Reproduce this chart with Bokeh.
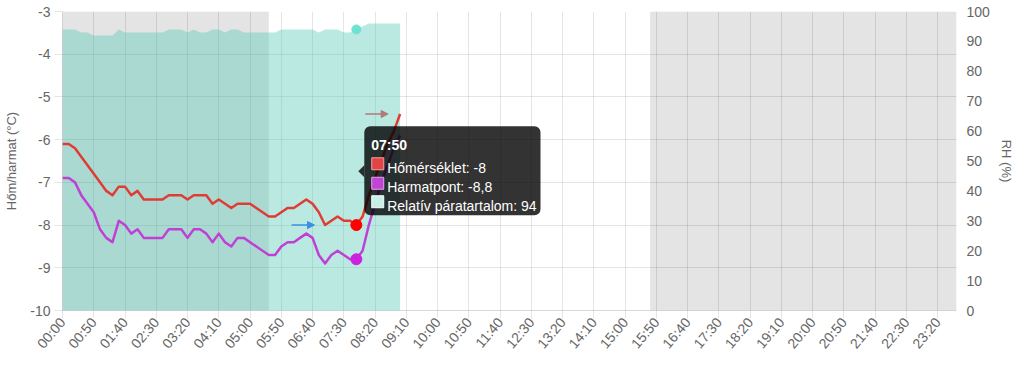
import numpy as np
from bokeh.plotting import figure
from bokeh.models import Range1d, LinearAxis, FixedTicker, BoxAnnotation, Arrow, NormalHead
from bokeh.core.properties import value
from bokeh.embed import file_html
from bokeh.resources import INLINE

# ---------------- data ----------------
times = [f"{h:02d}:{m:02d}" for h in range(24) for m in range(0, 60, 10)]

temp = [-6.1, -6.1, -6.2, -6.4, -6.6, -6.8, -7.0, -7.2, -7.3, -7.1,
        -7.1, -7.3, -7.2, -7.4, -7.4, -7.4, -7.4, -7.3, -7.3, -7.3,
        -7.4, -7.3, -7.3, -7.3, -7.5, -7.4, -7.5, -7.6, -7.5, -7.5,
        -7.5, -7.6, -7.7, -7.8, -7.8, -7.7, -7.6, -7.6, -7.5, -7.4,
        -7.5, -7.7, -8.0, -7.9, -7.8, -7.9, -7.9, -8.0, -7.8, -7.3,
        -6.9, -6.5, -6.1, -5.8, -5.4]

dew = [-6.9, -6.9, -7.0, -7.3, -7.5, -7.7, -8.1, -8.3, -8.4, -7.9,
       -8.0, -8.2, -8.1, -8.3, -8.3, -8.3, -8.3, -8.1, -8.1, -8.1,
       -8.3, -8.1, -8.1, -8.2, -8.4, -8.2, -8.4, -8.5, -8.3, -8.3,
       -8.4, -8.5, -8.6, -8.7, -8.7, -8.5, -8.4, -8.4, -8.3, -8.2,
       -8.3, -8.7, -8.9, -8.7, -8.6, -8.7, -8.8, -8.8, -8.6, -8.0,
       -7.5, -7.0, -6.6, -6.2, -5.9]

rh = [94, 94, 94, 93, 93, 92, 92, 92, 92, 94,
      93, 93, 93, 93, 93, 93, 93, 94, 94, 94,
      93, 94, 93, 93, 94, 94, 93, 94, 94, 93,
      93, 93, 93, 93, 93, 94, 94, 94, 94, 94,
      94, 93, 94, 94, 94, 93, 93, 94, 95, 96,
      96, 96, 96, 96, 96]

shaded = [("00:00", "05:30"), ("15:40", "23:50")]
hover_time = "07:50"
temp_ticks = [-10, -9, -8, -7, -6, -5, -4, -3]
rh_ticks = [0, 10, 20, 30, 40, 50, 60, 70, 80, 90, 100]
label_step = 5

series_names = ["Hőmérséklet", "Harmatpont", "Relatív páratartalom"]
y_title_left = "Hőm/harmat (°C)"
y_title_right = "RH (%)"

# ---------------- style ----------------
FONT = "Liberation Sans"
TXT = "#666666"
RED = "#e03c34"
PURPLE = "#c040d6"
TEAL = "#52c7b3"

W, H = 1016, 359
BL, BR, BT, BB = 62, 56, 11, 49
FRAME_W, FRAME_H = W - BL - BR, H - BT - BB
xmin, xmax = 0, len(times) - 1
ymin, ymax = min(temp_ticks), max(temp_ticks)
PPX = FRAME_W / (xmax - xmin)
PPY = FRAME_H / (ymax - ymin)


def X(px):
    return xmin + px / PPX


def Y(px):
    return ymax - px / PPY


p = figure(width=W, height=H, output_backend="svg", toolbar_location=None,
           x_range=Range1d(xmin, xmax), y_range=Range1d(ymin, ymax),
           min_border_left=BL, min_border_right=BR, min_border_top=BT, min_border_bottom=BB,
           outline_line_color=None, background_fill_color="white", border_fill_color="white")
p.extra_y_ranges = {"rh": Range1d(0, 100)}

# shaded (night) bands beneath the grid
for a, b in shaded:
    p.add_layout(BoxAnnotation(left=times.index(a), right=times.index(b),
                               fill_color="#e4e4e4", fill_alpha=1.0, line_color=None,
                               level="image"))

xt = list(range(0, len(times), label_step))
xticker = FixedTicker(ticks=xt)
p.xaxis.ticker = xticker
p.xaxis.major_label_overrides = {i: times[i] for i in xt}
p.xaxis.major_label_orientation = np.deg2rad(50)
p.yaxis.ticker = FixedTicker(ticks=temp_ticks)
p.yaxis.major_label_overrides = {t: str(t) for t in temp_ticks}
p.xgrid.ticker = xticker
p.ygrid.ticker = FixedTicker(ticks=temp_ticks)
for g in (p.xgrid, p.ygrid):
    g.grid_line_color = "black"
    g.grid_line_alpha = 0.1

for ax in (p.xaxis[0], p.yaxis[0]):
    ax.major_tick_out = 8
    ax.major_tick_in = 0
    ax.minor_tick_line_color = None
    ax.major_tick_line_color = "black"
    ax.major_tick_line_alpha = 0.1
    ax.axis_line_color = "black"
    ax.axis_line_alpha = 0.15
    ax.major_label_text_font = FONT
    ax.major_label_text_font_size = "14px"
    ax.major_label_text_color = TXT
    ax.major_label_standoff = 4
p.xaxis[0].major_label_standoff = 1

yl = p.yaxis[0]
yl.axis_label = y_title_left
yl.axis_label_text_font = FONT
yl.axis_label_text_font_size = "13px"
yl.axis_label_text_font_style = "normal"
yl.axis_label_text_color = TXT
yl.axis_label_standoff = 8

yr = LinearAxis(y_range_name="rh", ticker=FixedTicker(ticks=rh_ticks), axis_label=y_title_right)
yr.major_label_overrides = {t: str(t) for t in rh_ticks}
yr.major_tick_out = 0
yr.major_tick_in = 0
yr.major_tick_line_color = None
yr.minor_tick_line_color = None
yr.axis_line_color = None
yr.major_label_standoff = 10
yr.major_label_text_font = FONT
yr.major_label_text_font_size = "14px"
yr.major_label_text_color = TXT
yr.axis_label_text_font = FONT
yr.axis_label_text_font_size = "13px"
yr.axis_label_text_font_style = "normal"
yr.axis_label_text_color = TXT
yr.axis_label_standoff = 6
p.add_layout(yr, "right")

# ---------------- series ----------------
xs = list(range(len(temp)))
p.varea(x=xs, y1=[0] * len(rh), y2=rh, y_range_name="rh", fill_color=TEAL, fill_alpha=0.4)
p.line(xs, dew, line_color=PURPLE, line_width=2.5, line_join="round")
p.line(xs, temp, line_color=RED, line_width=2.5, line_join="round")

# hover markers
h = times.index(hover_time)
p.scatter([h], [temp[h]], size=11, fill_color="#ff0000", line_color="#ff0000")
p.scatter([h], [dew[h]], size=11, fill_color="#cc22dd", line_color="#cc22dd")
p.scatter([h], [rh[h]], size=9, fill_color="#6fe3d3", line_color="#6fe3d3",
          y_range_name="rh")

# trend arrows
last = len(temp) - 1
p.add_layout(Arrow(end=NormalHead(size=7, fill_color="#b07a7a", line_color="#b07a7a"),
                   x_start=X(last * PPX - 35), y_start=temp[last],
                   x_end=X(last * PPX - 12), y_end=temp[last],
                   line_color="#b07a7a", line_width=1.5))
p.add_layout(Arrow(end=NormalHead(size=7, fill_color="#3d8fe0", line_color="#3d8fe0"),
                   x_start=X(h * PPX - 65), y_start=temp[h],
                   x_end=X(h * PPX - 42), y_end=temp[h],
                   line_color="#3d8fe0", line_width=1.5))

# ---------------- tooltip ----------------
def fmt(v):
    return f"{v:g}".replace(".", ",")


hx = h * PPX
py_t = (ymax - temp[h]) * PPY
py_d = (ymax - dew[h]) * PPY
py_r = (100 - rh[h]) * FRAME_H / 100
cy = (py_t + py_d + py_r) / 3
bl, br = hx + 8, hx + 185
bt, bb = cy - 45, cy + 44

p.add_layout(BoxAnnotation(left=X(bl), right=X(br), top=Y(bt), bottom=Y(bb),
                           fill_color="black", fill_alpha=0.8, line_color=None,
                           border_radius=6, level="annotation"))
car = p.patch([X(hx + 2), X(bl), X(bl)], [Y(cy), Y(cy - 6), Y(cy + 6)],
              fill_color="black", fill_alpha=0.8, line_color=None)
car.level = "annotation"

t1 = p.text(x=[X(bl + 7)], y=[Y(bt + 19)], text=[hover_time], text_font=value(FONT),
            text_font_size="14px", text_font_style="bold", text_color="white",
            text_baseline="alphabetic")
t1.level = "overlay"

rows = [f"{series_names[0]}: {fmt(temp[h])}",
        f"{series_names[1]}: {fmt(dew[h])}",
        f"{series_names[2]}: {fmt(rh[h])}"]
sq_fill = ["#e04444", "#c244d6", "#c6efe8"]
sq_line = ["#f4a0a0", "#e2a6ea", "#ffffff"]
sq_y = [bt + 37.5, bt + 57, bt + 75.5]
tx_y = [bt + 42, bt + 61, bt + 80]
sq = p.scatter([X(bl + 13.5)] * 3, [Y(v) for v in sq_y], marker="square", size=12,
               fill_color=sq_fill, line_color=sq_line, line_width=1)
sq.level = "overlay"
t2 = p.text(x=[X(bl + 23)] * 3, y=[Y(v) for v in tx_y], text=rows, text_font=value(FONT),
            text_font_size="14px", text_color="white", text_baseline="alphabetic")
t2.level = "overlay"

open("out.html", "w").write(file_html(p, INLINE))
